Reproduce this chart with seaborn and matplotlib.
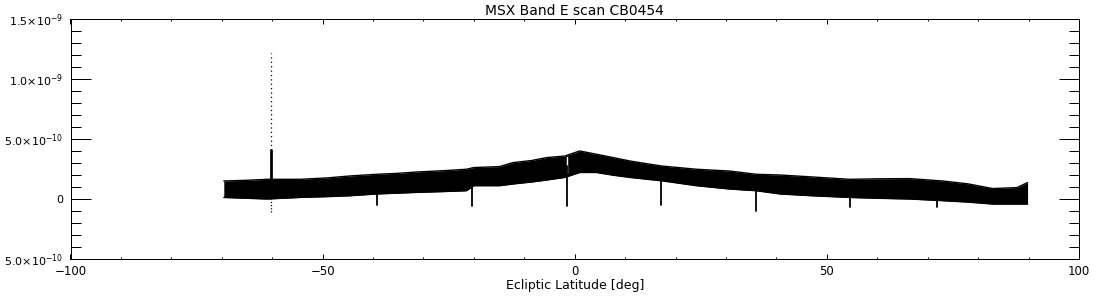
import numpy as np
import pandas as pd
import matplotlib
matplotlib.use("Agg")
import matplotlib.pyplot as plt
import seaborn as sns

# ---------------- data ----------------
title = "MSX Band E scan CB0454"
xlabel = "Ecliptic Latitude [deg]"
scale = 1e-10  # band values below are in units of 1e-10

band_lat = [-69.6, -65.0, -61.0, -54.5, -49.0, -44.6, -39.3, -35.0, -31.4, -26.0,
            -21.5, -20.0, -14.9, -12.3, -8.5, -5.6, -2.0, 1.0, 4.3, 7.5,
            10.9, 14.0, 17.2, 24.1, 30.7, 36.0, 40.7, 47.0, 54.5, 60.0,
            66.4, 73.0, 78.0, 82.9, 87.7, 89.8]
band_upper = [1.50, 1.56, 1.64, 1.64, 1.76, 1.92, 2.06, 2.14, 2.25, 2.36,
              2.48, 2.62, 2.70, 3.03, 3.21, 3.45, 3.58, 4.00, 3.73, 3.46,
              3.17, 2.96, 2.75, 2.48, 2.33, 2.06, 2.00, 1.84, 1.64, 1.68,
              1.70, 1.50, 1.26, 0.87, 0.95, 1.37]
band_lower = [0.13, 0.06, 0.00, 0.13, 0.20, 0.27, 0.42, 0.49, 0.55, 0.62,
              0.69, 1.11, 1.11, 1.25, 1.42, 1.58, 1.80, 2.21, 2.21, 1.99,
              1.80, 1.66, 1.52, 1.11, 0.83, 0.69, 0.42, 0.27, 0.13, 0.06,
              0.00, -0.14, -0.26, -0.42, -0.42, -0.42]

spike_lat = -60.3
spike_solid_top = 4.1
spike_top = 12.2
spike_bottom = -1.06

dip_lat = [-39.2, -20.3, -1.6, 17.2, 36.0, 54.5, 71.8]
dip_min = [-0.50, -0.60, -0.60, -0.50, -1.00, -0.65, -0.65]
gap_lat = [-1.6]
gap_top = [3.5]
gap_bottom = [2.17]

xticks = [-100, -50, 0, 50, 100]
yticks = [-5e-10, 0.0, 5e-10, 1e-9, 1.5e-9]
ytick_labels = [r"$5.0{\times}10^{-10}$", "0", r"$5.0{\times}10^{-10}$",
                r"$1.0{\times}10^{-9}$", r"$1.5{\times}10^{-9}$"]

# ---------------- figure ----------------
sns.set_style("ticks")
plt.rcParams["font.family"] = ["DejaVu Sans"]
plt.rcParams["mathtext.fontset"] = "dejavusans"
plt.rcParams["text.color"] = "black"
plt.rcParams["axes.labelcolor"] = "black"
plt.rcParams["xtick.color"] = "black"
plt.rcParams["ytick.color"] = "black"

W, H, DPI = 1100, 300, 100
fig = plt.figure(figsize=(W / DPI, H / DPI), dpi=DPI)
fig.patch.set_facecolor("white")
left, right, top, bottom = 70.5, 1079, 19, 259
ax = fig.add_axes([left / W, 1 - bottom / H, (right - left) / W, (bottom - top) / H])
ax.set_facecolor("white")

df = pd.DataFrame({"lat": band_lat,
                   "upper": np.array(band_upper) * scale,
                   "lower": np.array(band_lower) * scale})

ax.fill_between(df["lat"], df["lower"], df["upper"], color="black", lw=0, antialiased=False)
sns.lineplot(data=df, x="lat", y="upper", ax=ax, color="black", lw=1.0)
sns.lineplot(data=df, x="lat", y="lower", ax=ax, color="black", lw=1.0)

# bright source spike
ax.plot([spike_lat, spike_lat], [np.interp(spike_lat, band_lat, band_upper) * scale,
                                 spike_solid_top * scale], color="black", lw=2.0)
ax.plot([spike_lat, spike_lat], [spike_solid_top * scale, spike_top * scale],
        color="black", lw=0.9, ls=(0, (1, 2.5)))
ax.plot([spike_lat, spike_lat], [spike_bottom * scale,
                                 np.interp(spike_lat, band_lat, band_lower) * scale],
        color="black", lw=0.9, ls=(0, (1, 1.5)))

# gaps and dips
band_mid = (np.array(band_upper) + np.array(band_lower)) / 2
for gl, gt, gb in zip(gap_lat, gap_top, gap_bottom):
    ax.plot([gl + 0.15, gl + 0.15], [gb * scale, gt * scale], color="white", lw=1.0)
for dl, dm in zip(dip_lat, dip_min):
    ax.plot([dl, dl], [np.interp(dl, band_lat, band_mid) * scale, dm * scale],
            color="black", lw=1.3)

ax.set_xlim(-100, 100)
ax.set_ylim(-5e-10, 1.5e-9)
ax.set_xticks(xticks)
ax.set_xticklabels([f"{t:d}".replace("-", "\u2212") for t in xticks])
ax.set_xticks(np.arange(-100, 101, 10), minor=True)
ax.set_yticks(yticks)
ax.set_yticklabels(ytick_labels)
ax.set_yticks(np.arange(-5e-10, 1.5e-9 + 1e-12, 1e-10), minor=True)

px = 0.72
for s in ax.spines.values():
    s.set_visible(True)
    s.set_linewidth(1.0 * px)
    s.set_color("black")
ax.tick_params(axis="x", which="major", direction="in", length=5 * px, width=px,
               top=True, bottom=True, labelsize=8.5, pad=4, colors="black")
ax.tick_params(axis="x", which="minor", direction="in", length=2.5 * px, width=px,
               top=True, bottom=True)
ax.tick_params(axis="y", which="major", direction="in", length=20 * px, width=px,
               left=True, right=True, labelsize=8, pad=5, colors="black")
ax.tick_params(axis="y", which="minor", direction="in", length=10 * px, width=px,
               left=True, right=True)

ax.set_xlabel(xlabel, fontsize=9, labelpad=1, color="black")
ax.set_ylabel("")
ax.set_title(title, fontsize=10, pad=3, color="black")
ax.grid(False)

fig.savefig("out.png", dpi=DPI, facecolor="white")
